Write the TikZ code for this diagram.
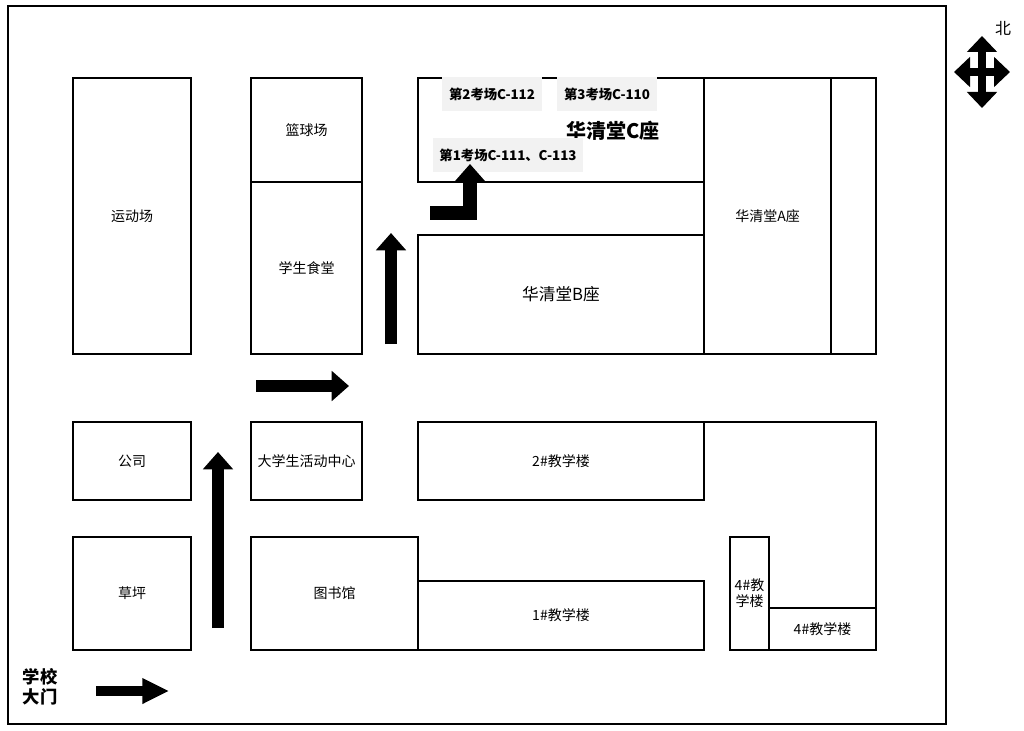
\documentclass[tikz,border=0pt]{standalone}
\usepackage{fontspec}
\newfontfamily\cjk{Noto Sans CJK SC}
\usetikzlibrary{arrows.meta}
\begin{document}
\begin{tikzpicture}[x=0.75pt,y=-0.75pt,
  bld/.style={draw=black,line width=0.8pt},
  lbl/.style={font=\cjk\fontsize{10.5}{12}\selectfont},
  bigarrow/.style={line width=9pt,-{Triangle[width=22pt,length=13pt]}},
  exam/.style={fill=black!5,font=\cjk\bfseries\fontsize{10}{12}\selectfont,inner sep=3pt}]
\useasboundingbox (0,0) rectangle (1024,731);
\draw[line width=0.8pt] (8,6) rectangle (946,724);
% buildings
\node[bld,minimum width=88.5pt,minimum height=207pt,lbl] (yd) at (132,216) {运动场};
\node[bld,minimum width=83.25pt,minimum height=78pt,lbl] (lq) at (306.5,130) {篮球场};
\node[bld,minimum width=83.25pt,minimum height=129pt,lbl] (st) at (306.5,268) {学生食堂};
\draw[bld] (418,78) rectangle (704,182);
\node[bld,minimum width=214.5pt,minimum height=89.25pt,font=\cjk\fontsize{12.5}{14}\selectfont] (hb) at (561,294.5) {华清堂B座};
\node[bld,minimum width=95.25pt,minimum height=207pt,lbl] (ha) at (767.5,216) {华清堂A座};
\draw[bld] (831,78) rectangle (876,354);
\node[bld,minimum width=88.5pt,minimum height=58.5pt,lbl] (gs) at (132,461) {公司};
\node[bld,minimum width=88.5pt,minimum height=84.75pt,lbl] (cp) at (132,593.5) {草坪};
\node[bld,minimum width=83.25pt,minimum height=58.5pt,lbl] (hd) at (306.5,461) {大学生活动中心};
\node[bld,minimum width=125.25pt,minimum height=84.75pt,lbl] (ts) at (334.5,593.5) {图书馆};
\node[bld,minimum width=214.5pt,minimum height=58.5pt,lbl] (j2) at (561,461) {2\#教学楼};
\node[bld,minimum width=214.5pt,minimum height=51.75pt,lbl] (j1) at (561,615.5) {1\#教学楼};
\draw[bld] (704,422) -- (876,422) -- (876,608);
\node[bld,minimum width=29.25pt,minimum height=84.75pt,lbl,align=center] (j4a) at (749.5,593.5) {4\#教\\学楼};
\node[bld,minimum width=80.25pt,minimum height=31.5pt,lbl] (j4b) at (822.5,629) {4\#教学楼};
% C labels
\node[font=\cjk\bfseries\fontsize{15}{18}\selectfont] (hc) at (613,131) {华清堂C座};
\node[exam,minimum width=75pt,minimum height=25pt] (e2) at (492,94) {第2考场C-112};
\node[exam,minimum width=75pt,minimum height=25pt] (e3) at (607,94) {第3考场C-110};
\node[exam,minimum width=112pt,minimum height=25pt] (e1) at (508,155) {第1考场C-111、C-113};
% arrows
\coordinate (a1s) at (218,628); \coordinate (a1e) at (218,452);
\draw[bigarrow] (a1s) -- (a1e);
\coordinate (a2s) at (391,344); \coordinate (a2e) at (391,233);
\draw[bigarrow] (a2s) -- (a2e);
\coordinate (a3s) at (256,386); \coordinate (a3e) at (349,386);
\draw[bigarrow] (a3s) -- (a3e);
\coordinate (a4s) at (96,691); \coordinate (a4e) at (169,691);
\draw[bigarrow,line width=7pt,-{Triangle[width=18pt,length=20pt]}] (a4s) -- (a4e);
\coordinate (a5s) at (430,213); \coordinate (a5c) at (470,213); \coordinate (a5e) at (470,164);
\draw[bigarrow,line width=10pt] (a5s) -- (a5c) -- (a5e);
% gate
\node[font=\cjk\bfseries\fontsize{13}{15}\selectfont,align=left] (gate) at (40,687) {学校\\大门};
% compass
\coordinate (cc) at (982,72);
\draw[line width=6pt,-{Triangle[width=22pt,length=12pt]}] (cc) -- ++(28,0);
\draw[line width=6pt,-{Triangle[width=22pt,length=12pt]}] (cc) -- ++(-28,0);
\draw[line width=6pt,-{Triangle[width=22pt,length=12pt]}] (cc) -- ++(0,36);
\draw[line width=6pt,-{Triangle[width=22pt,length=12pt]}] (cc) -- ++(0,-36);
\node[font=\cjk\fontsize{12}{14}\selectfont] (bei) at (1003,28) {北};
\end{tikzpicture}
\end{document}
